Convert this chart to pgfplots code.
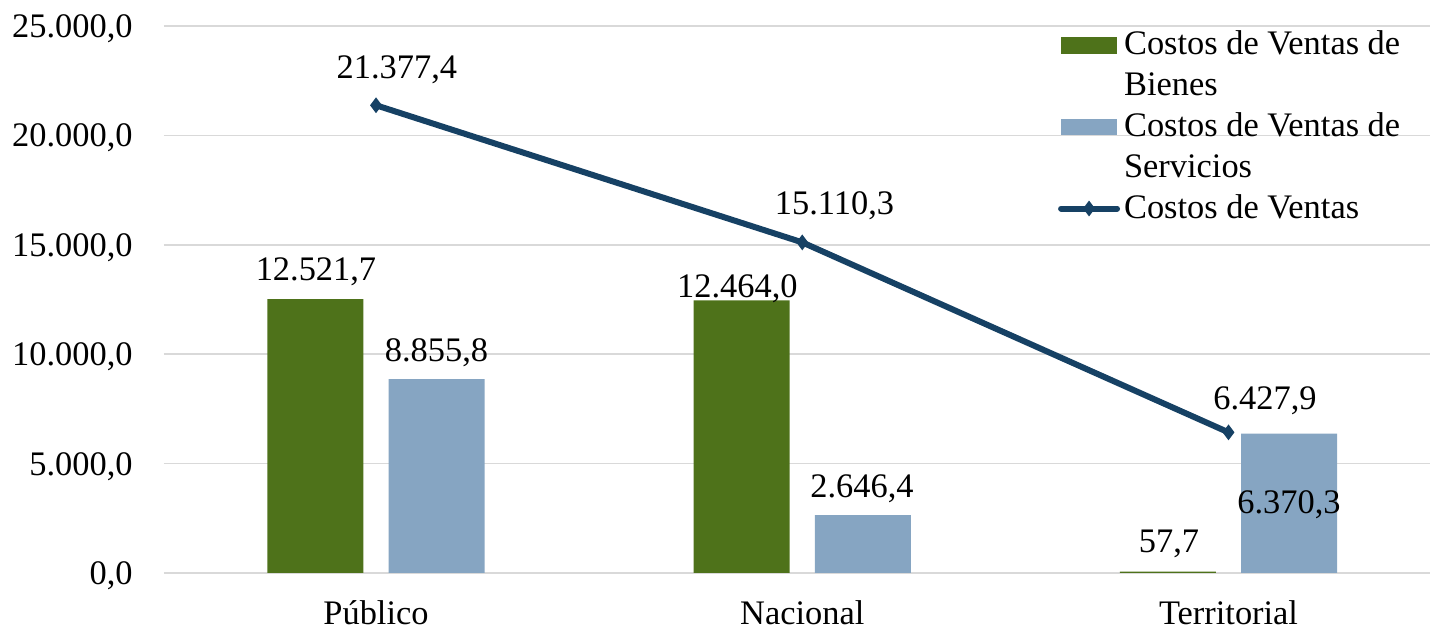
\documentclass[border=0pt]{standalone}
\usepackage{fontspec}
\setmainfont{Liberation Serif}
\usepackage{pgfplots}
\pgfplotsset{compat=1.18}
\definecolor{barGreen}{RGB}{78,114,26}
\definecolor{barBlue}{RGB}{134,165,194}
\definecolor{lineNavy}{RGB}{22,65,100}
\definecolor{gridGray}{RGB}{217,217,217}
\begin{document}
\begin{tikzpicture}[font=\fontsize{17.2}{20.6}\selectfont]
\path[use as bounding box] (0,0) rectangle (715pt,315.5pt);
\begin{axis}[
  at={(82pt,29pt)}, anchor=south west,
  scale only axis, width=633pt, height=273.5pt,
  xmin=-0.4974, xmax=2.4727, ymin=0, ymax=25000,
  xtick={0,1,2}, xticklabels={Público,Nacional,Territorial},
  ytick={0,5000,10000,15000,20000,25000},
  scaled y ticks=false,
  yticklabel style={/pgf/number format/fixed, /pgf/number format/fixed zerofill, /pgf/number format/precision=1, /pgf/number format/use comma, /pgf/number format/1000 sep={.}, /pgf/number format/assume math mode=true},
  yticklabel style={anchor=base east, inner sep=0pt, xshift=-15.5pt, yshift=-5.8pt},
  xticklabel style={anchor=base, inner sep=0pt, yshift=-26pt},
  axis line style={draw=none},
  tick style={draw=none},
  ymajorgrids, major grid style={color=gridGray, line width=0.75pt},
  clip=false,
  legend cell align=left,
  legend style={at={(axis description cs:0.7062,1.002)}, anchor=north west, draw=none, fill=none,
    inner sep=0pt, outer sep=0pt, row sep=0pt,
    nodes={inner xsep=0pt, inner ysep=0pt, text height=15pt, text depth=5.4pt},
    /tikz/every odd column/.append style={column sep=2pt}},
]
\addplot[ybar, bar width=0.2252, bar shift=-0.142, fill=barGreen, draw=none,
  legend image code/.code={\fill[barGreen] (1pt,-4.15pt) rectangle (29pt,4.15pt);}]
  coordinates {(0,12521.7) (1,12464.0) (2,57.7)};
\addlegendentry{Costos de Ventas de}
\addlegendimage{empty legend}
\addlegendentry{Bienes}
\addplot[ybar, bar width=0.2252, bar shift=0.142, fill=barBlue, draw=none,
  legend image code/.code={\fill[barBlue] (1pt,-4.15pt) rectangle (29pt,4.15pt);}]
  coordinates {(0,8855.8) (1,2646.4) (2,6370.3)};
\addlegendentry{Costos de Ventas de}
\addlegendimage{empty legend}
\addlegendentry{Servicios}
\addplot[color=lineNavy, line width=3pt, mark=diamond*, mark size=3.3pt, mark options={solid, line width=0.8pt},
  legend image code/.code={\draw[lineNavy, line width=3pt, line cap=round, mark=diamond*, mark size=3.3pt, mark options={solid, line width=0.8pt}, mark repeat=2, mark phase=2] plot coordinates {(1pt,0pt) (15pt,0pt) (29pt,0pt)};}]
  coordinates {(0,21377.4) (1,15110.3) (2,6427.9)};
\addlegendentry{Costos de Ventas}
% data labels
\node[anchor=base, inner sep=0pt] at (axis cs:0.049,22578) {21.377,4};
\node[anchor=base, inner sep=0pt] at (axis cs:-0.1408,13391) {12.521,7};
\node[anchor=base, inner sep=0pt] at (axis cs:0.142,9644) {8.855,8};
\node[anchor=base, inner sep=0pt] at (axis cs:1.0757,16362) {15.110,3};
\node[anchor=base, inner sep=0pt] at (axis cs:0.8479,12614) {12.464,0};
\node[anchor=base, inner sep=0pt] at (axis cs:1.1402,3428) {2.646,4};
\node[anchor=base, inner sep=0pt] at (axis cs:2.0856,7450) {6.427,9};
\node[anchor=base, inner sep=0pt] at (axis cs:2.1419,2742) {6.370,3};
\node[anchor=base, inner sep=0pt] at (axis cs:1.8604,914) {57,7};
\end{axis}
\end{tikzpicture}
\end{document}
